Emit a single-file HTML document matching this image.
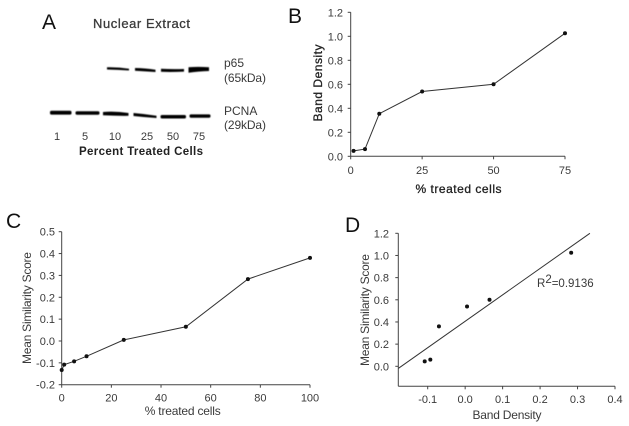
<!DOCTYPE html>
<html>
<head>
<meta charset="utf-8">
<style>
html,body{margin:0;padding:0;background:#fff;width:629px;height:426px;overflow:hidden}
svg{display:block}
text{font-family:"Liberation Sans",sans-serif;fill:#3a3a3a}
.tick{font-size:11px}
.title{font-size:12px}
.letter{font-size:21px;fill:#111}
.ax{stroke:#444;stroke-width:1;fill:none}
.ln{stroke:#333;stroke-width:1;fill:none}
.heavy{stroke:#222;stroke-width:0.3;fill:#222}
</style>
</head>
<body>
<svg id="fig" width="629" height="426" viewBox="0 0 629 426" xmlns="http://www.w3.org/2000/svg">
  <defs><filter id="soft" x="-20%" y="-100%" width="140%" height="300%"><feGaussianBlur stdDeviation="0.4"/></filter></defs>
  <g>
    <text class="letter" x="42" y="29">A</text>
    <text x="93" y="28" font-size="13" textLength="97" stroke="#3a3a3a" stroke-width="0.3">Nuclear Extract</text>
    <g filter="url(#soft)" fill="#000">
      <path d="M107 67.3 Q118 67 129 68.8 L129 70.5 Q118 69.800 107 69.500Z"/>
      <path d="M135 68 Q145 68 155.500 69.800 L155.500 72 Q145 71.400 135 70.800Z"/>
      <path d="M161 68.800 Q172 69.400 184 69 L184 71.600 Q172 72.200 161 71.800Z"/>
      <path d="M188.500 67.200 Q198 66.500 209 67.200 L209 71 Q198 71.300 188.500 72.800Z"/>
    </g>
    <g filter="url(#soft)" fill="#000">
      <rect x="50" y="110.800" width="21.500" height="3.800" rx="1.500"/>
      <rect x="75.500" y="111.200" width="24" height="3.500" rx="1.500"/>
      <path d="M103 112 Q115 111 128.500 113 L128.500 115.800 Q115 115.900 103 115.300Z"/>
      <path d="M133.500 113 Q145 114 156.500 115.700 L156.500 118 Q145 117.300 133.500 116Z"/>
      <rect x="160.500" y="115" width="25.500" height="3.500" rx="1.500"/>
      <rect x="189.500" y="114.400" width="21" height="3.300" rx="1.400"/>
    </g>
    <text x="224" y="67" class="title">p65</text>
    <text x="224" y="82" class="title" textLength="42">(65kDa)</text>
    <text x="224" y="115" class="title">PCNA</text>
    <text x="224" y="129" class="title" textLength="42">(29kDa)</text>
    <g class="tick" text-anchor="middle">
      <text x="57" y="140">1</text>
      <text x="85" y="140">5</text>
      <text x="115" y="140">10</text>
      <text x="147" y="140">25</text>
      <text x="173" y="140">50</text>
      <text x="199" y="140">75</text>
    </g>
    <text x="79" y="155" font-size="11.500" font-weight="bold" textLength="124" style="fill:#222">Percent Treated Cells</text>
  </g>
  <text class="letter" x="288" y="23">B</text>
  <text class="letter" x="6" y="228">C</text>
  <text class="letter" x="345" y="232">D</text>
  <g id="panelB"></g>
  <g id="panelC"></g>
  <g id="panelD"></g>
</svg>
<script>
const bX = [1, 5, 10, 25, 50, 75];
const bY = [0.045, 0.06, 0.355, 0.54, 0.6, 1.025];
const bXTicks = [0, 25, 50, 75];
const bYTicks = [0.0, 0.2, 0.4, 0.6, 0.8, 1.0, 1.2];

const cX = [0, 1, 5, 10, 25, 50, 75, 100];
const cY = [-0.133, -0.108, -0.093, -0.07, 0.005, 0.065, 0.283, 0.38];
const cXTicks = [0, 20, 40, 60, 80, 100];
const cYTicks = [-0.2, -0.1, 0.0, 0.1, 0.2, 0.3, 0.4, 0.5];

const dX = [-0.108, -0.093, -0.07, 0.005, 0.065, 0.283];
const dY = [0.045, 0.06, 0.36, 0.54, 0.6, 1.025];
const dFitX = [-0.178, 0.333];
const dFitY = [-0.018, 1.2];
const dXTicks = [-0.1, 0.0, 0.1, 0.2, 0.3, 0.4];
const dYTicks = [0.0, 0.2, 0.4, 0.6, 0.8, 1.0, 1.2];

const NS = 'http://www.w3.org/2000/svg';
function mk(parent, tag, attrs, txt) {
  const el = document.createElementNS(NS, tag);
  for (const k in attrs) el.setAttribute(k, attrs[k]);
  if (txt !== undefined) el.textContent = txt;
  parent.appendChild(el);
  return el;
}
function scale(d0, d1, r0, r1) {
  return v => r0 + (v - d0) * (r1 - r0) / (d1 - d0);
}
function drawAxes(g, o) {
  const xAxis = mk(g, 'path', {class:'ax', d:`M${o.left} ${o.bottom}H${o.right}`});
  
  
  const yAxis = mk(g, 'path', {class:'ax', d:`M${o.left} ${o.top}V${o.bottom}`});
  
  
  o.xTicks.forEach(t => {
    const px = o.sx(t);
    const tickMark = mk(g, 'path', {class:'ax', d:`M${px} ${o.bottom}v3`});
    
    
    const label = mk(g, 'text', {class:'tick', x:px, y:o.xLabelY, 'text-anchor':'middle'}, t.toFixed(o.xDigits));
    
    
  });
  o.yTicks.forEach(t => {
    const py = o.sy(t);
    const tickMark = mk(g, 'path', {class:'ax', d:`M${o.left} ${py}h-3`});
    
    
    const label = mk(g, 'text', {class:'tick', x:o.yLabelX, y:py + 4, 'text-anchor':'end'}, t.toFixed(1));
    
    
  });
  const titleClass = o.heavy ? 'title heavy' : 'title';
  const xt = mk(g, 'text', {class:titleClass, x:o.xTitle[0], y:o.xTitle[1], 'text-anchor':'middle', textLength:o.xTitle[3]}, o.xTitle[2]);
  
  
  const yt = mk(g, 'text', {class:titleClass, transform:`translate(${o.yTitle[0]} ${o.yTitle[1]}) rotate(-90)`, 'text-anchor':'middle', textLength:o.yTitle[3]}, o.yTitle[2]);
  
  
}
function drawPoints(g, xs, ys, sx, sy) {
  xs.forEach((x, i) => {
    const dot = mk(g, 'circle', {cx:sx(x), cy:sy(ys[i]), r:2, fill:'#111'});
    
    
  });
}
function drawLine(g, xs, ys, sx, sy) {
  const pts = xs.map((x, i) => sx(x).toFixed(1) + ',' + sy(ys[i]).toFixed(1)).join(' ');
  const line = mk(g, 'polyline', {class:'ln', points:pts});
  
  
}

/* Panel B */
{
  const g = document.getElementById('panelB');
  const sx = scale(0, 75, 350.7, 565);
  const sy = scale(0, 1.2, 156.3, 12.3);
  drawAxes(g, {left:350.7, right:565, top:12.3, bottom:156.3, sx, sy, xTicks:bXTicks, yTicks:bYTicks, xDigits:0,
    xLabelY:174, yLabelX:343, xTitle:[458.5, 193, '% treated cells', 86], yTitle:[322, 83, 'Band Density', 77], heavy:true});
  drawLine(g, bX, bY, sx, sy);
  drawPoints(g, bX, bY, sx, sy);
}
/* Panel C */
{
  const g = document.getElementById('panelC');
  const sx = scale(0, 100, 61.7, 310);
  const sy = scale(-0.2, 0.5, 384.7, 231.7);
  drawAxes(g, {left:61.7, right:310, top:231.7, bottom:384.7, sx, sy, xTicks:cXTicks, yTicks:cYTicks, xDigits:0,
    xLabelY:401.5, yLabelX:55, xTitle:[182.7, 415, '% treated cells', 76], yTitle:[31, 308, 'Mean Similarity Score', 112]});
  drawLine(g, cX, cY, sx, sy);
  drawPoints(g, cX, cY, sx, sy);
}
/* Panel D */
{
  const g = document.getElementById('panelD');
  const sx = scale(-0.1, 0.4, 427.7, 615);
  const sy = scale(0, 1.2, 366.3, 233.3);
  drawAxes(g, {left:398.3, right:615, top:233.3, bottom:386.3, sx, sy, xTicks:dXTicks, yTicks:dYTicks, xDigits:1,
    xLabelY:403, yLabelX:389, xTitle:[507, 419, 'Band Density', 69], yTitle:[369, 310, 'Mean Similarity Score', 112]});
  const fit = mk(g, 'line', {class:'ln', x1:sx(dFitX[0]), y1:sy(dFitY[0]), x2:sx(dFitX[1]), y2:sy(dFitY[1])});
  
  
  drawPoints(g, dX, dY, sx, sy);
  const r2 = mk(g, 'text', {x:537, y:287, 'font-size':11.5});
  
  
  mk(r2, 'tspan', {}, 'R');
  mk(r2, 'tspan', {dy:-4}, '2');
  mk(r2, 'tspan', {dy:4}, '=0.9136');
}
</script>
</body>
</html>
